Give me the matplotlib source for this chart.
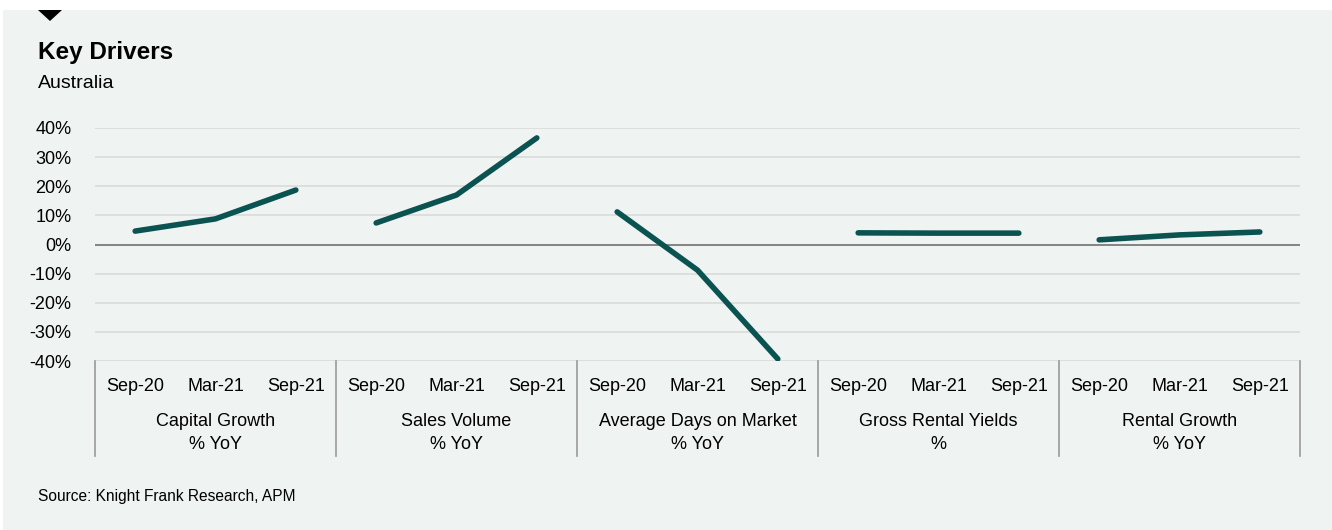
import matplotlib.pyplot as plt
from matplotlib.patches import Rectangle, Polygon
import matplotlib.transforms as mtransforms

plt.rcParams['font.family'] = ['Liberation Sans', 'DejaVu Sans']

periods = ["Sep-20", "Mar-21", "Sep-21"]
groups = ["Capital Growth\n% YoY", "Sales Volume\n% YoY", "Average Days on Market\n% YoY",
          "Gross Rental Yields\n%", "Rental Growth\n% YoY"]
capital_growth = [4.6, 8.8, 18.7]
sales_volume = [7.4, 17.0, 36.6]
days_on_market = [11.2, -8.8, -39.3]
gross_yields = [4.0, 3.9, 3.9]
rental_growth = [1.6, 3.3, 4.3]
series = [capital_growth, sales_volume, days_on_market, gross_yields, rental_growth]

W, H = 1332, 530
fig = plt.figure(figsize=(W / 100, H / 100), dpi=100, facecolor="white")

# background panel + marker triangle
bg = "#eff3f2"
fig.patches.append(Rectangle((3 / W, 0), 1, 1 - 10 / H, transform=fig.transFigure,
                             facecolor=bg, edgecolor="none", zorder=-10))
fig.patches.append(Polygon([(38 / W, 1 - 10 / H), (62 / W, 1 - 10 / H), (50 / W, 1 - 21 / H)],
                           closed=True, transform=fig.transFigure, facecolor="black",
                           edgecolor="none", zorder=-9))

fig.text(38 / W, 1 - 52 / H, "Key Drivers", fontsize=17.5, fontweight="bold", va="center")
fig.text(38 / W, 1 - 83 / H, "Australia", fontsize=14, va="center")
fig.text(38 / W, 1 - 497 / H, "Source: Knight Frank Research, APM", fontsize=11.2, va="center")

ax = fig.add_axes([95 / W, 169 / H, 1205 / W, 233 / H])
ax.set_facecolor("none")
ax.set_xlim(-0.5, 14.5)
ax.set_ylim(-40, 40)

yt = list(range(-40, 41, 10))
ax.set_yticks(yt)
ax.set_yticklabels([f"{v}%" for v in yt], fontsize=13)
for v in yt:
    if v == 0:
        ax.axhline(v, color="#7b7b7b", lw=1.3, zorder=1)
    else:
        ax.axhline(v, color="#dcdcdc", lw=1.3, zorder=1)

xs_all = []
for g, vals in enumerate(series):
    xs = [g * 3 + i for i in range(len(vals))]
    xs_all += xs
    ax.plot(xs, vals, color="#0b5351", lw=4, solid_capstyle="round",
            solid_joinstyle="round", zorder=3)

ax.set_xticks(xs_all)
ax.set_xticklabels(periods * len(groups), fontsize=13)
ax.tick_params(length=0)
ax.tick_params(axis="x", pad=12)
ax.tick_params(axis="y", pad=17)
for s in ax.spines.values():
    s.set_visible(False)

trans = mtransforms.blended_transform_factory(ax.transData, ax.transAxes)
bottom = -(456 - 361) / 233
for g in range(len(groups) + 1):
    ax.plot([g * 3 - 0.5] * 2, [0, bottom], color="#9a9a9a", lw=1.2,
            transform=trans, clip_on=False)
for g, name in enumerate(groups):
    ax.text(g * 3 + 1, -(433 - 361) / 233, name, transform=trans, ha="center",
            va="center", fontsize=13, linespacing=1.45)

fig.savefig("out.png", dpi=100, facecolor="white")
